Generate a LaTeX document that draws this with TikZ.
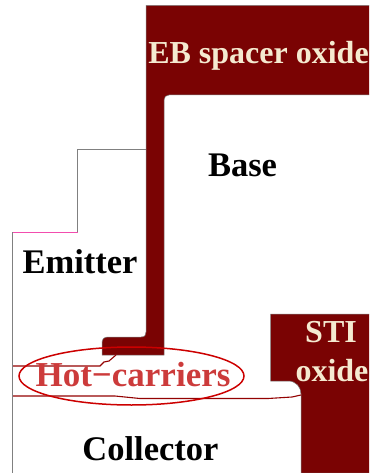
\documentclass[tikz,border=0pt]{standalone}
\usepackage{fontspec}
\setmainfont{Liberation Serif}
\usetikzlibrary{shapes.geometric}
\definecolor{oxide red}{HTML}{7A0303}
\definecolor{oxide text}{HTML}{F5EAD0}
\definecolor{hot red}{HTML}{CC0000}
\definecolor{hot text}{HTML}{CC3B3B}
\tikzstyle{oxide}=[fill=oxide red,draw=gray,line width=0.5pt]
\tikzstyle{outline}=[draw=gray,line width=0.8pt]
\tikzstyle{junction}=[draw=oxide red!70!hot red,line width=1.1pt]
\tikzstyle{region label}=[font=\bfseries\fontsize{34.5}{34.5}\selectfont,text=black,inner sep=0pt]
\tikzstyle{oxide label}=[font=\bfseries\fontsize{32}{32}\selectfont,text=oxide text,inner sep=0pt]
\begin{document}
\begin{tikzpicture}[x=1pt,y=-1pt]
    \useasboundingbox (0,0) rectangle (369,473);
    % spacer and trench
    \filldraw[oxide] (369,5.5) -- (146,5.5) -- (146,332) .. controls (146,335) and (145,337) .. (141,337) -- (108,337)
      .. controls (104,337) and (102,339) .. (102,343) -- (102,355) -- (164,355) -- (164,100)
      .. controls (164,97) and (166,95) .. (169,95) -- (369,95);
    \filldraw[oxide] (369,314) -- (270.5,314) -- (270.5,381) -- (288,381)
      .. controls (296,381) and (301,387) .. (301,394) -- (301,473) -- (369,473);
    % emitter outline
    \draw[outline] (146,149.5) -- (77.5,149.5) -- (77.5,232);
    \draw[outline,draw=magenta!70] (77.5,232) -- (12.5,232);
    \draw[outline] (12.5,232) -- (12.5,473);
    % junctions
    \draw[junction] (13,366) -- (100,366) -- (104,362) -- (109,361) -- (116,355);
    \draw[junction] (13,396) -- (115,396) -- (140,398.5) -- (268,398.5) -- (292,397) -- (301,395);
    \node[draw=hot red,line width=1.5pt,ellipse,minimum width=225pt,minimum height=58pt,inner sep=0pt] (hot ellipse) at (131.5,376) {};
    \node[font=\bfseries\fontsize{35}{35}\selectfont,text=hot text,inner sep=0pt] (hot label) at (133,375) {Hot−carriers};
    \node[oxide label] (spacer label) at (258.5,56) {EB spacer oxide};
    \node[oxide label] (sti label) at (331,332) {STI};
    \node[oxide label] (sti label2) at (332,371) {oxide};
    \node[region label] (base) at (242.5,165) {Base};
    \node[region label] (emitter) at (80,262) {Emitter};
    \node[region label] (collector) at (150.5,449) {Collector};
\end{tikzpicture}
\end{document}
